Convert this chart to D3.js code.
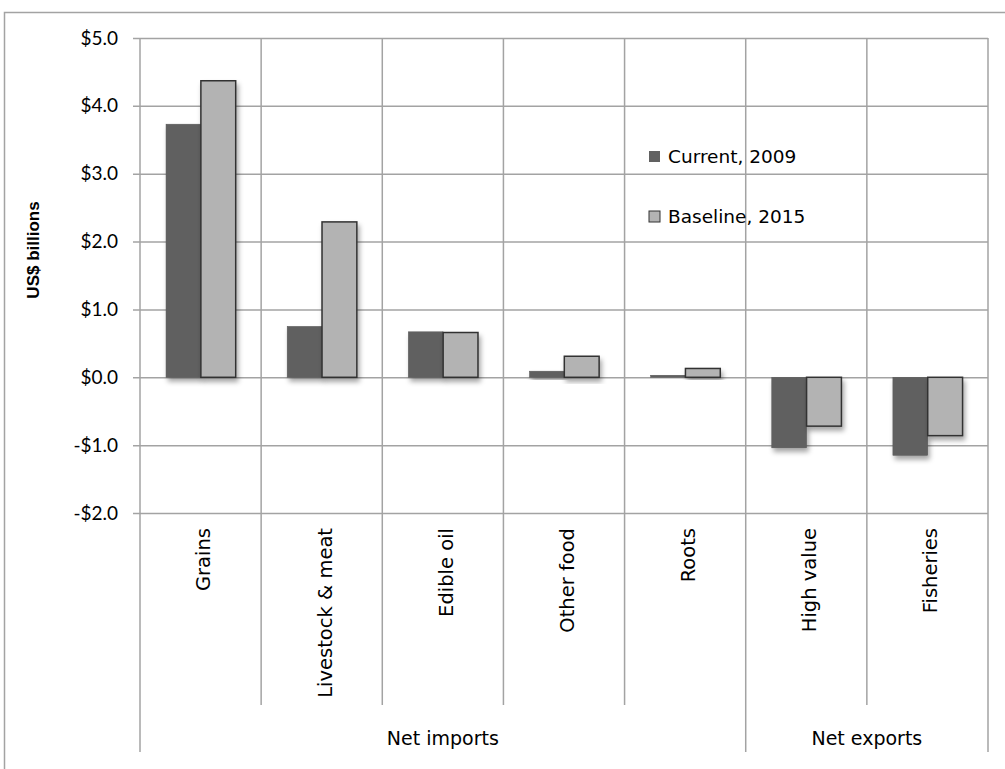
<!DOCTYPE html>
<html>
<head>
<meta charset="utf-8">
<script src="https://cdn.jsdelivr.net/npm/d3@7"></script>
<style>
    body { margin: 0; background: #fff; }
    svg { display: block; }
</style>
</head>
<body>
<div id="chart"></div>
<script>
"use strict";

var Categories = ["Grains", "Livestock & meat", "Edible oil", "Other food", "Roots", "High value", "Fisheries"];
var SeriesNames = ["Current, 2009", "Baseline, 2015"];
var Current2009 = [3.73, 0.75, 0.67, 0.09, 0.03, -1.04, -1.15];
var Baseline2015 = [4.37, 2.29, 0.66, 0.31, 0.13, -0.72, -0.86];
var YTicks = [-2, -1, 0, 1, 2, 3, 4, 5];
var Groups = [
    { name: "Net imports", from: "Grains", to: "Roots" },
    { name: "Net exports", from: "High value", to: "Fisheries" }
];

var FillColors = ["#616161", "#b3b3b3"];
var GridColor = "#a3a3a3";

var width = 1005, height = 769;
var plot = { left: 140, right: 988, top: 38, bottom: 513 };

var svg = d3.select("#chart").append("svg")
    .attr("width", width)
    .attr("height", height);

// soft shadow under the bars
var filter = svg.append("defs").append("filter")
    .attr("id", "shadow")
    .attr("x", "-20%").attr("y", "-20%")
    .attr("width", "150%").attr("height", "150%");
filter.append("feDropShadow")
    .attr("dx", 2).attr("dy", 4)
    .attr("stdDeviation", 2.5)
    .attr("flood-color", "#000")
    .attr("flood-opacity", 0.35);

// outer chart border
svg.append("rect")
    .attr("x", 4.5).attr("y", 12.5)
    .attr("width", width + 10).attr("height", height + 10)
    .attr("fill", "none")
    .attr("stroke", GridColor)
    .attr("stroke-width", 1.5);

var x0 = d3.scaleBand()
    .domain(Categories)
    .range([plot.left, plot.right])
    .padding(0);

var x1 = d3.scaleBand()
    .domain(SeriesNames)
    .range([x0.bandwidth() * 0.215, x0.bandwidth() * 0.79])
    .padding(0);

var y = d3.scaleLinear()
    .domain([-2, 5])
    .range([plot.bottom, plot.top]);

// horizontal gridlines + y axis (ticks poke 7px out to the left)
var yAxis = d3.axisLeft(y)
    .tickValues(YTicks)
    .tickSize(-(plot.right - plot.left) - 7)
    .tickSizeOuter(0)
    .tickPadding(15)
    .tickFormat(function (d) {
        return (d < 0 ? "-$" : "$") + Math.abs(d).toFixed(1);
    });

var yG = svg.append("g")
    .attr("transform", "translate(" + (plot.left - 7) + ",0)")
    .call(yAxis);
yG.select(".domain").remove();
yG.selectAll(".tick line")
    .attr("stroke", GridColor)
    .attr("stroke-width", 1.5);
yG.selectAll(".tick text")
    .style("font-family", "Lato, 'Open Sans', sans-serif")
    .style("font-size", "19px")
    .style("fill", "#000");

// vertical gridlines and category dividers below the axis
var boundaries = Categories.map(function (c) { return x0(c); }).concat([plot.right]);
var groupEdges = [plot.left, x0("High value"), plot.right];

svg.append("g").selectAll("line")
    .data(boundaries)
    .enter()
    .append("line")
    .attr("x1", function (d) { return d; })
    .attr("x2", function (d) { return d; })
    .attr("y1", plot.top)
    .attr("y2", function (d) {
        return groupEdges.indexOf(d) >= 0 ? 752 : 705;
    })
    .attr("stroke", GridColor)
    .attr("stroke-width", 1.5);

// bars
var barGroups = svg.append("g").selectAll("g")
    .data(Categories)
    .enter()
    .append("g")
    .attr("transform", function (d) { return "translate(" + x0(d) + ",0)"; });

barGroups.selectAll("rect")
    .data(function (d, i) {
        return [
            { series: SeriesNames[0], value: Current2009[i] },
            { series: SeriesNames[1], value: Baseline2015[i] }
        ];
    })
    .enter()
    .append("rect")
    .attr("x", function (d) { return x1(d.series); })
    .attr("y", function (d) { return y(Math.max(0, d.value)); })
    .attr("width", x1.bandwidth())
    .attr("height", function (d) { return Math.abs(y(d.value) - y(0)); })
    .attr("fill", function (d) { return FillColors[SeriesNames.indexOf(d.series)]; })
    .attr("stroke", function (d) { return d.series === SeriesNames[1] ? "#333" : "#555"; })
    .attr("stroke-width", function (d) { return d.series === SeriesNames[1] ? 1.5 : 0.5; })
    .attr("filter", "url(#shadow)");

// category labels, rotated
svg.append("g").selectAll("text")
    .data(Categories)
    .enter()
    .append("text")
    .attr("transform", function (d) {
        return "translate(" + (x0(d) + x0.bandwidth() / 2 + 3) + ",528) rotate(-90)";
    })
    .attr("text-anchor", "end")
    .attr("dy", "0.35em")
    .style("font-family", "'DejaVu Sans', Verdana, sans-serif")
    .style("font-size", "19.5px")
    .style("fill", "#000")
    .text(function (d) { return d; });

// group labels
svg.append("g").selectAll("text")
    .data(Groups)
    .enter()
    .append("text")
    .attr("x", function (d) { return (x0(d.from) + x0(d.to) + x0.bandwidth()) / 2; })
    .attr("y", 745)
    .attr("text-anchor", "middle")
    .style("font-family", "'DejaVu Sans', Verdana, sans-serif")
    .style("font-size", "19px")
    .style("fill", "#000")
    .text(function (d) { return d.name; });

// y axis title
svg.append("text")
    .attr("transform", "translate(39,250) rotate(-90)")
    .attr("text-anchor", "middle")
    .style("font-family", "'Liberation Sans', Arial, sans-serif")
    .style("font-weight", "bold")
    .style("font-size", "17px")
    .style("fill", "#000")
    .text("US$ billions");

// legend
var legend = svg.append("g").selectAll("g")
    .data(SeriesNames)
    .enter()
    .append("g")
    .attr("transform", function (d, i) { return "translate(649," + (151 + i * 60) + ")"; });

legend.append("rect")
    .attr("width", 11)
    .attr("height", 11)
    .attr("fill", function (d, i) { return FillColors[i]; })
    .attr("stroke", function (d, i) { return i === 1 ? "#333" : "none"; })
    .attr("stroke-width", 1);

legend.append("text")
    .attr("x", 19)
    .attr("y", 12)
    .style("font-family", "'DejaVu Sans', Verdana, sans-serif")
    .style("font-size", "18.5px")
    .style("fill", "#000")
    .text(function (d) { return d; });
</script>
</body>
</html>
